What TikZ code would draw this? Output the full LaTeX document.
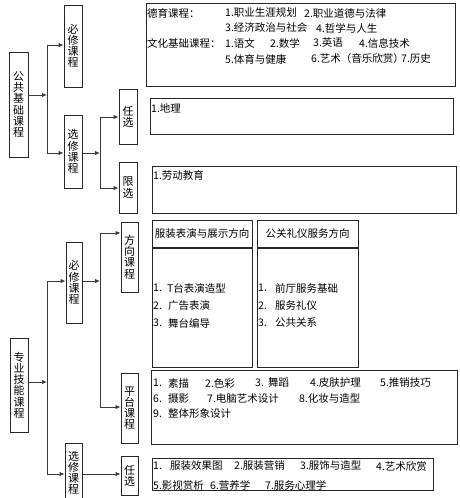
\documentclass[tikz,border=0pt]{standalone}
\usepackage{fontspec}
\setmainfont{Noto Sans CJK SC}
\usetikzlibrary{arrows.meta}
\definecolor{ln}{HTML}{3A3A3A}
\tikzset{
  vbox/.style={draw=black!85, line width=0.9pt, inner sep=0pt, align=center,
    font={\fontsize{11}{11.2}\selectfont}},
  tbox/.style={draw=black!85, line width=0.9pt, inner sep=0pt},
  itm/.style={anchor=west, inner sep=0pt, font={\fontsize{10.5}{11}\selectfont}},
  conn/.style={draw=ln, line width=0.9pt},
  arr/.style={conn, -{Latex[length=5pt,width=4.5pt]}}
}
\begin{document}
\begin{tikzpicture}[x=1pt,y=-1pt]
\useasboundingbox (0,0) rectangle (460,498);
\clip (0,0) rectangle (460,498);
% ---------- left hierarchy: public courses
\node[vbox, minimum width=19pt, minimum height=105pt] (gg) at (18.5,104.5) {公\\共\\基\\础\\课\\程};
\node[vbox, minimum width=18pt, minimum height=82pt] (bx1) at (73,46) {必\\修\\课\\程};
\node[vbox, minimum width=18pt, minimum height=73pt] (xx1) at (73,151.5) {选\\修\\课\\程};
\node[vbox, minimum width=18pt, minimum height=55pt] (rx1) at (128,116.5) {任\\选};
\node[vbox, minimum width=18pt, minimum height=51pt] (xian) at (128,187.5) {限\\选};
\coordinate (j1) at (47,95);
\coordinate (j1t) at (47,45);
\coordinate (j1b) at (47,153);
\coordinate (j2) at (100,153);
\coordinate (j2t) at (100,117);
\coordinate (j2b) at (100,188);
\draw[arr] (gg.east |- j1) -- (j1);
\draw[conn] (j1t) -- (j1b);
\draw[arr] (j1t) -- (bx1.west |- j1t);
\draw[arr] (j1b) -- (xx1.west |- j1b);
\draw[arr] (xx1.east |- j2) -- (j2);
\draw[conn] (j2t) -- (j2b);
\draw[arr] (j2t) -- (rx1.west |- j2t);
\draw[arr] (j2b) -- (xian.west |- j2b);
% ---------- left hierarchy: professional courses
\node[vbox, minimum width=18pt, minimum height=94pt] (zy) at (19,385) {专\\业\\技\\能\\课\\程};
\node[vbox, minimum width=16pt, minimum height=81pt] (bx2) at (74,282.5) {必\\修\\课\\程};
\node[vbox, minimum width=17pt, minimum height=60pt] (xx2) at (73.5,473) {选\\修\\课\\程};
\node[vbox, minimum width=17pt, minimum height=70pt] (fx) at (129.5,257) {方\\向\\课\\程};
\node[vbox, minimum width=17pt, minimum height=70pt] (pt) at (129.5,408) {平\\台\\课\\程};
\node[vbox, minimum width=17pt, minimum height=39pt] (rx2) at (129.5,475.5) {任\\选};
\coordinate (j3) at (47,382);
\coordinate (j3t) at (47,281);
\coordinate (j3b) at (47,474);
\coordinate (j4) at (100,281);
\coordinate (j4t) at (100,233);
\coordinate (j4b) at (100,407);
\draw[arr] (zy.east |- j3) -- (j3);
\draw[conn] (j3t) -- (j3b);
\draw[arr] (j3t) -- (bx2.west |- j3t);
\draw[arr] (j3b) -- (xx2.west |- j3b);
\draw[arr] (bx2.east |- j4) -- (j4);
\draw[conn] (j4t) -- (j4b);
\draw[arr] (j4t) -- (fx.west |- j4t);
\draw[arr] (j4b) -- (pt.west |- j4b);
\draw[arr] (xx2.east |- j3b) -- (rx2.west |- j3b);
% ---------- content boxes
\node[tbox, minimum width=309pt, minimum height=83pt] (t1) at (300.5,44.5) {};
\node[tbox, minimum width=303pt, minimum height=36pt] (t2) at (301.5,116) {};
\node[tbox, minimum width=304pt, minimum height=47pt] (t3) at (304,189.5) {};
\node[tbox, minimum width=100pt, minimum height=27pt, font={\fontsize{10.5}{11}\selectfont}] (d1) at (202,233.5) {服装表演与展示方向};
\node[tbox, minimum width=101pt, minimum height=27pt, font={\fontsize{10.5}{11}\selectfont}] (d2) at (307.5,233.5) {公关礼仪服务方向};
\node[tbox, minimum width=100pt, minimum height=119pt] (b1) at (202,307.5) {};
\node[tbox, minimum width=101pt, minimum height=119pt] (b2) at (307.5,307.5) {};
\node[tbox, minimum width=306pt, minimum height=74pt] (t4) at (304,407) {};
\node[tbox, minimum width=281pt, minimum height=32pt] (t5) at (292.5,474) {};
% ---------- texts of box t1
\node[itm] (a1) at (147,13) {德育课程：};
\node[itm] (a2) at (225,13) {1.职业生涯规划};
\node[itm] (a3) at (304,13) {2.职业道德与法律};
\node[itm] (a4) at (225,28) {3.经济政治与社会};
\node[itm] (a5) at (316,28) {4.哲学与人生};
\node[itm] (a6) at (147,43) {文化基础课程：};
\node[itm] (a7) at (225,43) {1.语文};
\node[itm] (a8) at (270,43) {2.数学};
\node[itm] (a9) at (313,43) {3.英语};
\node[itm] (a10) at (359,43) {4.信息技术};
\node[itm] (a11) at (225,59) {5.体育与健康};
\node[itm] (a12) at (311,59) {6.艺术（音乐欣赏）};
\node[itm] (a13) at (401,59) {7.历史};
% ---------- t2, t3
\node[itm] (c1) at (151,108) {1.地理};
\node[itm] (c2) at (153,175) {1.劳动教育};
% ---------- b1, b2
\node[itm] (e1) at (153,288) {1.};
\node[itm] (e2) at (167,288) {T台表演造型};
\node[itm] (e3) at (153,306) {2.};
\node[itm] (e4) at (168,306) {广告表演};
\node[itm] (e5) at (153,323) {3.};
\node[itm] (e6) at (168,323) {舞台编导};
\node[itm] (f1) at (258,288) {1.};
\node[itm] (f2) at (275,288) {前厅服务基础};
\node[itm] (f3) at (258,306) {2.};
\node[itm] (f4) at (275,306) {服务礼仪};
\node[itm] (f5) at (258,323) {3.};
\node[itm] (f6) at (275,323) {公共关系};
% ---------- t4
\node[itm] (g1) at (153,383) {1.};
\node[itm] (g2) at (168,383) {素描};
\node[itm] (g3) at (205,383) {2.色彩};
\node[itm] (g4) at (255,383) {3.};
\node[itm] (g5) at (268,383) {舞蹈};
\node[itm] (g6) at (310,383) {4.皮肤护理};
\node[itm] (g7) at (380,383) {5.推销技巧};
\node[itm] (g8) at (153,399) {6.};
\node[itm] (g9) at (168,399) {摄影};
\node[itm] (g10) at (207,399) {7.电脑艺术设计};
\node[itm] (g11) at (299,399) {8.化妆与造型};
\node[itm] (g12) at (153,414) {9.};
\node[itm] (g13) at (168,414) {整体形象设计};
% ---------- t5
\node[itm] (h1) at (153,466) {1.};
\node[itm] (h2) at (170,466) {服装效果图};
\node[itm] (h3) at (234,466) {2.服装营销};
\node[itm] (h4) at (300,466) {3.服饰与造型};
\node[itm] (h5) at (376,466) {4.艺术欣赏};
\node[itm] (h6) at (153,485) {5.影视赏析};
\node[itm] (h7) at (210,485) {6.营养学};
\node[itm] (h8) at (265,485) {7.服务心理学};
\end{tikzpicture}
\end{document}
